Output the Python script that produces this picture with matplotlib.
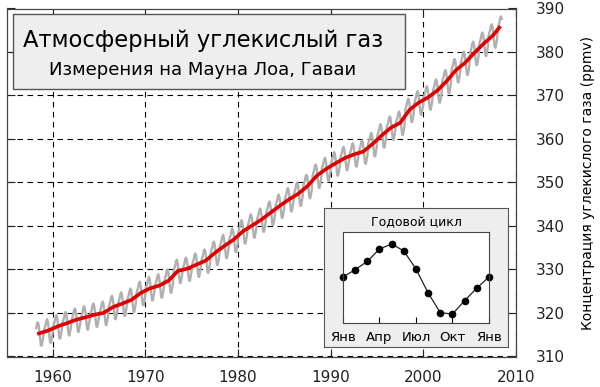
import numpy as np
import matplotlib
matplotlib.use("Agg")
import matplotlib.pyplot as plt
from matplotlib.patches import Rectangle

# annual means (ppmv)
years = list(range(1958, 2009))
annual_co2 = [315.3, 315.97, 316.91, 317.64, 318.45, 318.99, 319.62, 320.04, 321.38, 322.16,
              323.04, 324.62, 325.68, 326.32, 327.45, 329.68, 330.18, 331.11, 332.04, 333.83,
              335.40, 336.84, 338.75, 340.11, 341.45, 343.05, 344.65, 346.12, 347.42, 349.19,
              351.57, 353.12, 354.39, 355.61, 356.45, 357.10, 358.83, 360.82, 362.61, 363.73,
              366.70, 368.38, 369.55, 371.14, 373.28, 375.80, 377.52, 379.80, 381.90, 383.79,
              385.60]
# seasonal cycle from the inset (Jan..Jan), ppmv offset
month_labels = ["Янв", "Апр", "Июл", "Окт", "Янв"]
season = [0.04, 0.60, 1.24, 2.19, 2.58, 2.04, 0.65, -1.19, -2.71, -2.81, -1.78, -0.81, 0.04]

# monthly series: annual mean + seasonal offset (Mar 1958 .. Jun 2008)
t_month = []
co2_month = []
for y, mean in zip(years, annual_co2):
    for m in range(12):
        t = y + (m + 0.5) / 12.0
        if t < 1958.2 or t > 2008.5:
            continue
        t_month.append(t)
        co2_month.append(mean + season[m])
t_year = [y + 0.5 for y in years]
t_year[-1] = 2008.2

fig = plt.figure(figsize=(6.0, 3.87), dpi=100)
plt.rcParams['font.family'] = ['DejaVu Sans']
ax = fig.add_axes([7/600, 1-356.5/387, 509/600, 348/387])
ax.plot(t_month, co2_month, color="#b0b0b0", lw=1.7, zorder=2)
ax.plot(t_year, annual_co2, color="#e00000", lw=2.6, zorder=3)
ax.set_xlim(1955.05, 2010)
ax.set_ylim(310, 390)
ax.set_xticks(range(1960, 2011, 10))
ax.set_yticks(range(310, 391, 10))
ax.grid(True, color="black", linestyle=(0, (5, 4)), lw=0.8)
ax.tick_params(direction="in", length=6, width=0.8, top=True, right=True, left=True,
               labelleft=False, labelright=True, labelsize=11, colors="#222222")
ax.tick_params(axis="x", pad=10)
ax.tick_params(axis="y", pad=14)
ax.yaxis.set_label_position("right")
ax.set_ylabel("Концентрация углекислого газа (ppmv)", fontsize=10, labelpad=12)
for s in ax.spines.values():
    s.set_color("#444444")
    s.set_linewidth(0.9)

# title box
fig.add_artist(Rectangle((13/600, 1-89/387), 392/600, 75/387, transform=fig.transFigure,
                         facecolor="#eeeeee", edgecolor="#555555", lw=1.0, zorder=5))
fig.text(203/600, 1-41/387, "Атмосферный углекислый газ", fontsize=16.3,
         ha="center", va="center", zorder=6)
fig.text(203/600, 1-70/387, "Измерения на Мауна Лоа, Гаваи", fontsize=13,
         ha="center", va="center", zorder=6)

# inset
box = fig.add_axes([324/600, 1-347/387, 184/600, 139/387], zorder=7)
box.set_facecolor("#eeeeee")
box.set_xticks([])
box.set_yticks([])
for s in box.spines.values():
    s.set_color("#555555")
ins = fig.add_axes([343/600, 1-323/387, 146/600, 91/387], zorder=8)
months = list(range(1, 14))
ins.plot(months, season, color="#222222", lw=0.9, marker="o", markersize=4.5,
         markerfacecolor="black", markeredgecolor="black", clip_on=False)
ins.set_xlim(1, 13)
ins.set_ylim(-3.5, 3.5)
ins.set_xticks([1, 4, 7, 10, 13])
ins.set_xticklabels(month_labels)
ins.set_yticks([])
ins.tick_params(direction="in", length=4, labelsize=9.5, pad=6)
ins.set_title("Годовой цикл", fontsize=9, pad=4)
for s in ins.spines.values():
    s.set_color("#444444")

fig.savefig("out.png", dpi=100)
